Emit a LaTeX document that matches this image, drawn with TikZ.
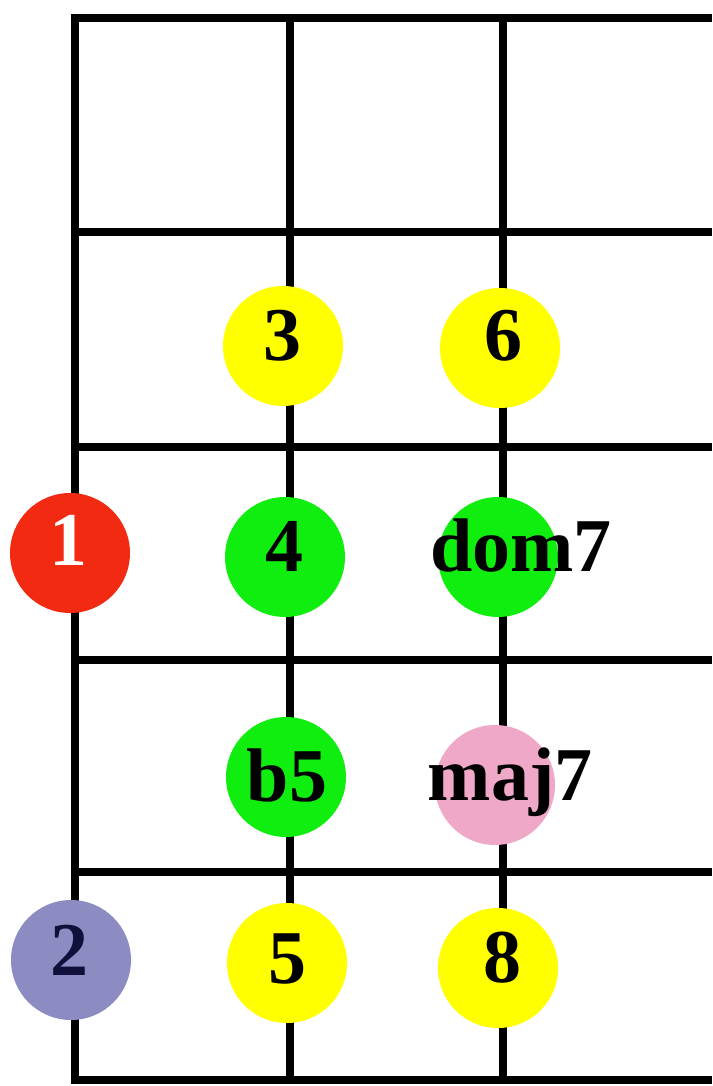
\documentclass[tikz,border=0pt]{standalone}
\usepackage{fontspec}
\setmainfont{Liberation Serif}
\begin{document}
\begin{tikzpicture}[x=1pt,y=-1pt,
  grid/.style={line width=8pt,black},
  dot/.style={circle,minimum size=120pt,inner sep=0pt,draw=none},
  lbl/.style={inner sep=0pt,font=\fontsize{76}{76}\selectfont\bfseries,text=black},
]
\definecolor{cred}{HTML}{F22A12}
\definecolor{cyel}{HTML}{FFFF00}
\definecolor{cgrn}{HTML}{10EE10}
\definecolor{cpnk}{HTML}{F0A8C8}
\definecolor{cpur}{HTML}{8C8CC2}
\definecolor{cnavy}{HTML}{10103A}
\useasboundingbox[fill=white] (0,0) rectangle (712,1086);
% grid
\foreach \x in {75,290,503} \draw[grid] (\x,18) -- (\x,1080);
\foreach \y in {18,232,447,660,872,1080} \draw[grid] (71,\y) -- (712,\y);
% dots
\node[dot,fill=cyel] (d3) at (283,346) {};
\node[dot,fill=cyel] (d6) at (500,348) {};
\node[dot,fill=cred] (d1) at (70,553) {};
\node[dot,fill=cgrn] (d4) at (285,557) {};
\node[dot,fill=cgrn] (d7) at (498,557) {};
\node[dot,fill=cgrn] (db5) at (286,777) {};
\node[dot,fill=cpnk] (dm7) at (495,785) {};
\node[dot,fill=cpur] (d2) at (71,960) {};
\node[dot,fill=cyel] (d5) at (287,963) {};
\node[dot,fill=cyel] (d8) at (498,968) {};
% labels
\node[lbl] (t3) at (282,336) {3};
\node[lbl] (t6) at (503,336) {6};
\node[lbl,text=white] (t1) at (68,540) {1};
\node[lbl] (t4) at (284,546) {4};
\node[lbl] (t7) at (521,545) {dom7};
\node[lbl] (tb5) at (287,775) {b5};
\node[lbl] (tm7) at (510,782) {maj7};
\node[lbl,text=cnavy] (t2) at (69,950) {2};
\node[lbl] (t5) at (287,959) {5};
\node[lbl] (t8) at (502,958) {8};
\end{tikzpicture}
\end{document}
